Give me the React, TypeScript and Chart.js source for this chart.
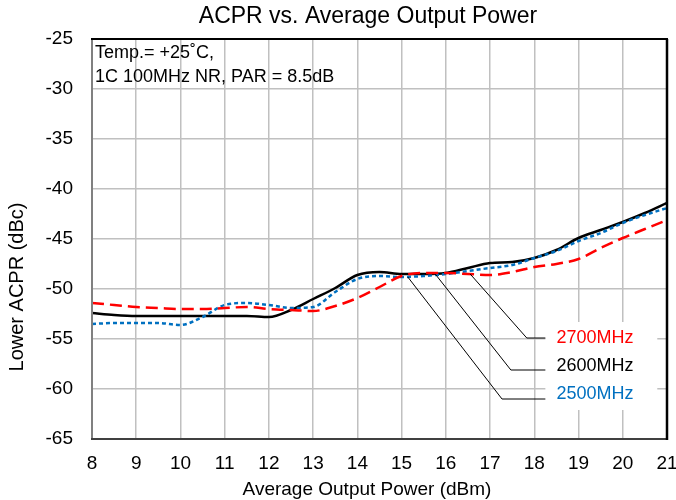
import React, { useEffect, useRef } from "react";
import { Chart, registerables } from "chart.js";

Chart.register(...registerables);

const xValues = [8, 8.5, 9, 9.5, 10, 10.5, 11, 11.5, 12, 12.5, 13, 13.5, 14, 14.5, 15, 15.5, 16, 16.5, 17, 17.5, 18, 18.5, 19, 19.5, 20, 20.5, 21];

const acpr2700 = [-51.4, -51.6, -51.8, -51.9, -52.0, -52.0, -51.9, -51.8, -52.0, -52.1, -52.2, -51.7, -50.9, -49.8, -48.7, -48.4, -48.4, -48.5, -48.6, -48.3, -47.8, -47.5, -47.0, -45.9, -44.9, -44.0, -43.1];
const acpr2600 = [-52.4, -52.6, -52.7, -52.7, -52.7, -52.7, -52.7, -52.7, -52.8, -52.1, -51.0, -49.9, -48.6, -48.3, -48.5, -48.5, -48.4, -47.9, -47.4, -47.3, -46.9, -46.1, -44.9, -44.1, -43.3, -42.4, -41.4];
const acpr2500 = [-53.5, -53.4, -53.4, -53.4, -53.6, -52.8, -51.6, -51.4, -51.6, -51.9, -51.8, -50.3, -49.0, -48.7, -48.8, -48.7, -48.5, -48.2, -47.9, -47.6, -46.9, -46.2, -45.2, -44.4, -43.4, -42.6, -41.9];

// leader lines (data coordinates): start on curve, elbow, end at label
const leader2700 = [{ x: 16.55, y: -48.5 }, { x: 17.83, y: -54.9 }, { x: 18.25, y: -54.9 }];
const leader2600 = [{ x: 15.76, y: -48.5 }, { x: 17.47, y: -58.1 }, { x: 18.25, y: -58.1 }];
const leader2500 = [{ x: 15.14, y: -48.8 }, { x: 17.27, y: -61.0 }, { x: 18.25, y: -61.0 }];

const seriesLabels = ["2700MHz", "2600MHz", "2500MHz"];
const labelX = 18.5;
const labelY = [-54.9, -57.7, -60.5];
const labelBox = { x0: 18.25, x1: 20.78, y0: -53.3, y1: -62.1 };

const xTicks = [8, 9, 10, 11, 12, 13, 14, 15, 16, 17, 18, 19, 20, 21];
const yTicks = [-25, -30, -35, -40, -45, -50, -55, -60, -65];

const titleText = "ACPR vs. Average Output Power";
const xTitle = "Average Output Power (dBm)";
const yTitle = "Lower ACPR (dBc)";
const noteLines = ["Temp.= +25˚C,", "1C 100MHz NR, PAR = 8.5dB"];

const RED = "#ff0000";
const BLACK = "#000000";
const BLUE = "#0070c0";
const FONT = "Arial, 'Liberation Sans', sans-serif";

const pts = (ys: number[]) => xValues.map((x, i) => ({ x, y: ys[i] }));

const decorPlugin = {
  id: "decor",
  beforeDatasetsDraw(chart: any) {
    const { ctx, scales } = chart;
    const xs = scales.x, ys = scales.y;
    ctx.save();
    ctx.fillStyle = "#ffffff";
    const x0 = xs.getPixelForValue(labelBox.x0), x1 = xs.getPixelForValue(labelBox.x1);
    const y0 = ys.getPixelForValue(labelBox.y0), y1 = ys.getPixelForValue(labelBox.y1);
    ctx.fillRect(x0, y0, x1 - x0, y1 - y0);
    ctx.restore();
  },
  afterDraw(chart: any) {
    const { ctx, chartArea: a, scales } = chart;
    const xs = scales.x, ys = scales.y;
    ctx.save();
    // borders
    ctx.lineCap = "butt";
    ctx.strokeStyle = "#808080";
    ctx.lineWidth = 2;
    ctx.beginPath(); ctx.moveTo(a.left, a.top); ctx.lineTo(a.left, a.bottom); ctx.stroke();
    ctx.strokeStyle = "#404040";
    ctx.beginPath(); ctx.moveTo(a.left - 1, a.bottom); ctx.lineTo(a.right, a.bottom); ctx.stroke();
    ctx.strokeStyle = "#000000";
    ctx.beginPath(); ctx.moveTo(a.left - 1, a.top); ctx.lineTo(a.right + 1, a.top); ctx.stroke();
    ctx.lineWidth = 2.5;
    ctx.beginPath(); ctx.moveTo(a.right, a.top); ctx.lineTo(a.right, a.bottom + 1); ctx.stroke();

    ctx.fillStyle = "#000";
    ctx.textBaseline = "middle";
    // title
    ctx.font = `23px ${FONT}`;
    ctx.textAlign = "center";
    ctx.fillText(titleText, 368, 17);
    // x title
    ctx.font = `19px ${FONT}`;
    ctx.fillText(xTitle, 367, 490);
    // y title
    ctx.save();
    ctx.font = `20px ${FONT}`;
    ctx.translate(17, 287);
    ctx.rotate(-Math.PI / 2);
    ctx.fillText(yTitle, 0, 0);
    ctx.restore();
    // note
    ctx.textAlign = "left";
    ctx.font = `18px ${FONT}`;
    ctx.fillText(noteLines[0], a.left + 3, 53);
    ctx.fillText(noteLines[1], a.left + 3, 77);
    // series labels
    ctx.font = `18px ${FONT}`;
    const cols = [RED, BLACK, BLUE];
    seriesLabels.forEach((t, i) => {
      ctx.fillStyle = cols[i];
      ctx.fillText(t, xs.getPixelForValue(labelX), ys.getPixelForValue(labelY[i]));
    });
    ctx.restore();
  },
};

export default function App() {
  const ref = useRef<HTMLCanvasElement | null>(null);
  useEffect(() => {
    if (!ref.current) return;
    const leaderStyle = {
      borderColor: "#000000",
      borderWidth: 1,
      pointRadius: 0,
      tension: 0,
      fill: false,
    };
    const chart = new Chart(ref.current, {
      type: "line",
      data: {
        datasets: [
          { label: "L2700", data: leader2700, ...leaderStyle },
          { label: "L2600", data: leader2600, ...leaderStyle },
          { label: "L2500", data: leader2500, ...leaderStyle },
          {
            label: "2700MHz", data: pts(acpr2700), borderColor: RED, borderWidth: 2.5,
            borderDash: [12, 6], pointRadius: 0, cubicInterpolationMode: "monotone", fill: false,
          },
          {
            label: "2500MHz", data: pts(acpr2500), borderColor: BLUE, borderWidth: 2.5,
            borderDash: [4, 3], pointRadius: 0, cubicInterpolationMode: "monotone", fill: false,
          },
          {
            label: "2600MHz", data: pts(acpr2600), borderColor: BLACK, borderWidth: 2.5,
            pointRadius: 0, cubicInterpolationMode: "monotone", fill: false,
          },
        ],
      },
      options: {
        responsive: false,
        animation: false,
        devicePixelRatio: 1,
        layout: { padding: { top: 39, right: 9, left: 0, bottom: 0 } },
        plugins: { legend: { display: false }, tooltip: { enabled: false }, title: { display: false } },
        scales: {
          x: {
            type: "linear", min: 8, max: 21,
            afterFit: (s: any) => { s.height = 61; s.paddingLeft = 0; s.paddingRight = 0; },
            afterBuildTicks: (s: any) => { s.ticks = xTicks.map((v) => ({ value: v })); },
            ticks: { color: "#000", font: { family: FONT, size: 19 }, padding: 13, maxRotation: 0, autoSkip: false },
            grid: { color: "#c0c0c0", lineWidth: 1.5, drawTicks: false },
            border: { display: false },
          },
          y: {
            type: "linear", min: -65, max: -25,
            afterFit: (s: any) => { s.width = 92; s.paddingTop = 0; s.paddingBottom = 0; },
            afterBuildTicks: (s: any) => { s.ticks = yTicks.map((v) => ({ value: v })); },
            ticks: { color: "#000", font: { family: FONT, size: 19 }, padding: 19, autoSkip: false },
            grid: { color: "#c0c0c0", lineWidth: 1.5, drawTicks: false },
            border: { display: false },
          },
        },
      },
      plugins: [decorPlugin],
    });
    return () => chart.destroy();
  }, []);
  return (
    <div style={{ position: "absolute", left: 0, top: 0, width: 676, height: 500, background: "#fff" }}>
      <canvas ref={ref} width={676} height={500} />
    </div>
  );
}
